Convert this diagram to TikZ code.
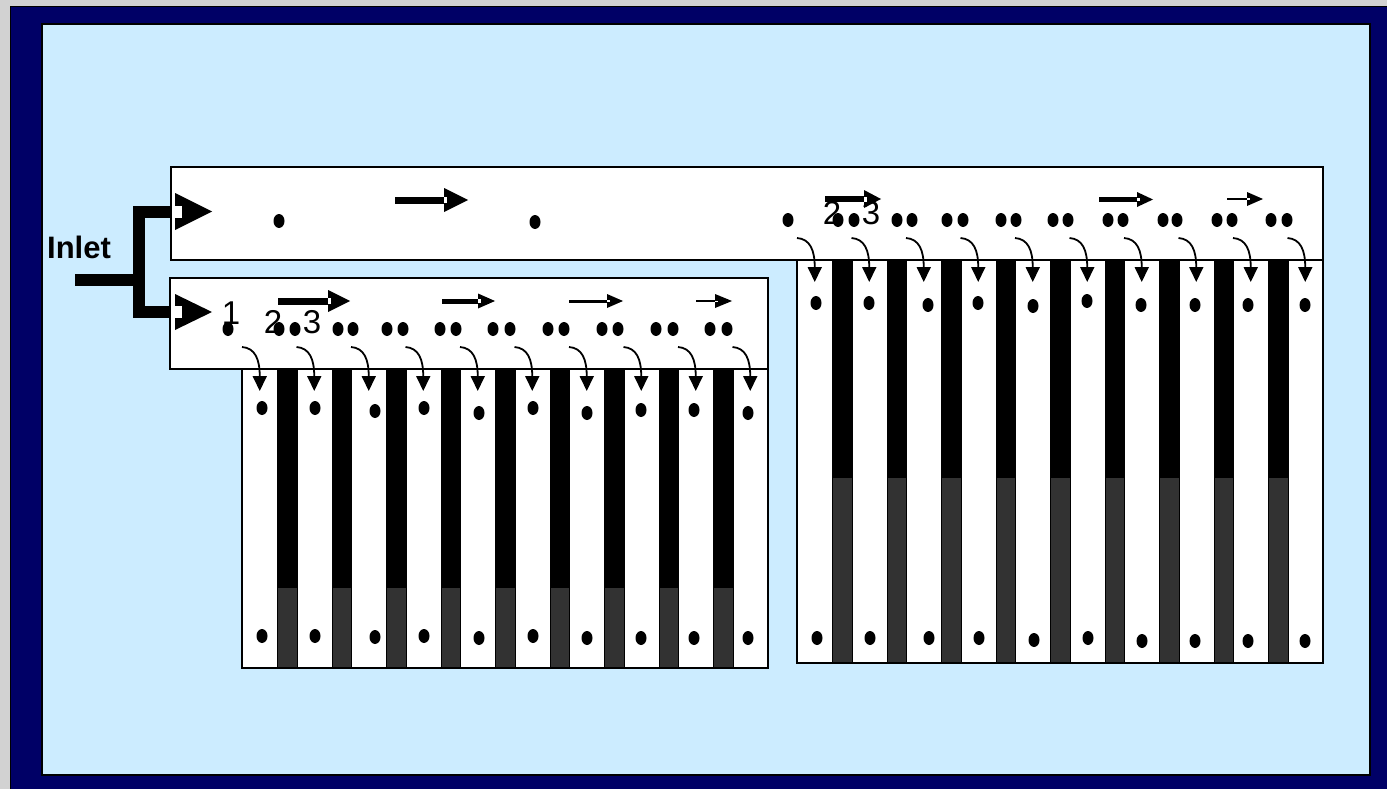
\documentclass[tikz,border=0pt]{standalone}
\usepackage{fontspec}
\setmainfont{Liberation Sans}
\usetikzlibrary{arrows.meta}
\definecolor{navy}{HTML}{000066}
\definecolor{sky}{HTML}{CCECFF}
\definecolor{bggray}{HTML}{D2D2D2}
\definecolor{darkcol}{HTML}{323232}
\newcommand\colblock[4]{% #1 left, #2 top, #3 black end, #4 bottom
  \draw[chan] (#1,#2) rectangle ({#1+526},#4);
  \foreach \i in {0,...,8}{
    \pgfmathsetmacro\dl{#1+35.5+54.5*\i}
    \fill[black] (\dl,#2) rectangle (\dl+19.5,#3);
    \fill[darkcol] (\dl,#3) rectangle (\dl+19.5,#4);
    \draw[line width=0.8pt] (\dl,#2) -- (\dl,#4) (\dl+19.5,#2) -- (\dl+19.5,#4);
  }
  \draw[line width=2pt] (#1,#2) rectangle ({#1+526},#4);
  \foreach \i in {0,...,9}{
    \pgfmathsetmacro\wl{#1+54.5*\i}
    \pgfmathsetmacro\wc{\wl+17.75}
    \coordinate (s\i) at (\wl,#2-22);
    \coordinate (t\i) at (\wc,#2+22);
    \draw[bendarr] (s\i) .. controls (\wl+13,#2-21) and (\wc,#2-10) .. (t\i);
  }
}
\newcommand\flowarr[6]{% x1, head base, tip, y, thickness, head half height
  \fill (#1,{#4-#5/2}) rectangle (#2,{#4+#5/2});
  \fill (#2,{#4-#6}) -- (#3,#4) -- (#2,{#4+#6}) -- cycle;
  \fill[white] (#2,{#4-#5/2+0.5}) rectangle ({#2+3},{#4+#5/2-0.5});
}
\newcommand\dt[2]{\fill (#1,#2) ellipse [x radius=5.5pt, y radius=7pt];}
\begin{document}
\begin{tikzpicture}[x=1pt,y=-1pt,
  chan/.style={fill=white,draw=black,line width=2pt},
  bendarr/.style={line width=1.8pt,-{Triangle[length=15pt,width=14pt]}},
  pipe/.style={line width=12pt,line join=miter,line cap=butt},
  lab/.style={font=\fontsize{33}{33}\selectfont,inner sep=0pt},
]
\useasboundingbox (0,0) rectangle (1387,789);
\fill[bggray] (0,0) rectangle (1387,789);
\filldraw[fill=navy,draw=black,line width=1pt] (10,7) rectangle (1400,800);
\filldraw[fill=sky,draw=black,line width=2pt] (42,24) rectangle (1370,775);

% channels
\draw[chan] (171,167) rectangle (1323,260);
\draw[chan] (170,278) rectangle (768,369);

% column blocks
\colblock{242}{369}{588}{668}
\colblock{797}{260}{478}{663}

% labels
\node[lab] (n1) at (231,313) {1};
\node[lab] (n2) at (273,322) {2};
\node[lab] (n3) at (312,322) {3};
\node[lab] (m2) at (832,213) {2};
\node[lab] (m3) at (871,213) {3};
\node[font=\bfseries\fontsize{31}{31}\selectfont,inner sep=0pt] (inlet) at (79,247) {Inlet};

% channel dots
\dt{228}{329}
\foreach \a/\b in {279/295,338/353,387/403,440/456,493/510,548/564,602/618,656/673,710/727}{\dt{\a}{329}\dt{\b}{329}}
\dt{279}{221}\dt{535}{222}\dt{788}{220}
\foreach \a/\b in {838/854,897/912,947/963,1001/1016,1053/1068,1108/1123,1163/1177,1217/1232,1271/1287}{\dt{\a}{220}\dt{\b}{220}}

% column dots
\foreach \x/\y in {262/408,315/408,375/411,424/408,479/413,533/408,587/413,641/410,694/410,748/413}{\dt{\x}{\y}}
\foreach \x/\y in {262/636,315/636,375/637,424/636,479/638,533/636,587/638,641/638,694/638,748/638}{\dt{\x}{\y}}
\foreach \x/\y in {816/303,869/303,928/305,978/303,1033/306,1087/301,1141/305,1195/305,1248/305,1305/305}{\dt{\x}{\y}}
\foreach \x/\y in {817/638,870/638,929/638,979/638,1034/640,1088/638,1142/641,1195/641,1248/641,1305/641}{\dt{\x}{\y}}

% flow arrows
\flowarr{395}{444}{468}{200}{7}{12}
\flowarr{825}{864}{881}{199}{6}{9}
\flowarr{1099}{1137}{1153}{199.5}{4.5}{7.5}
\flowarr{1227}{1247}{1263}{199}{2.5}{7}
\flowarr{278}{328}{350}{301}{7}{11}
\flowarr{442}{478}{495}{301}{5}{7.5}
\flowarr{569}{607}{623}{301}{3}{7}
\flowarr{696}{715}{732}{301}{2}{7}

% inlet pipes
\draw[pipe] (171,212) -- (139,212) -- (139,311.5) -- (171,311.5);
\draw[pipe] (75,280) -- (139,280);
\fill (175,193) -- (212,211.5) -- (175,230) -- cycle;
\fill[white] (175,206) rectangle (182,218);
\fill (175,294) -- (212,312) -- (175,330) -- cycle;
\fill[white] (175,306) rectangle (182,318);
\end{tikzpicture}
\end{document}
